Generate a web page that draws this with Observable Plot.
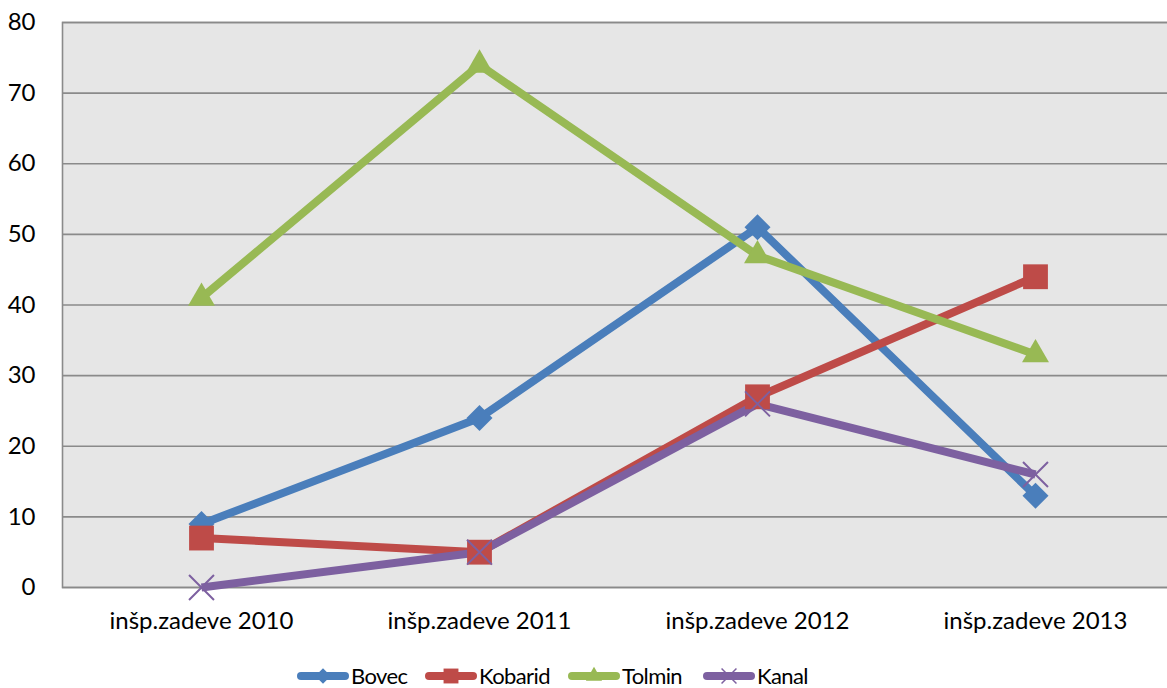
<!DOCTYPE html>
<html><head><meta charset="utf-8">
<script src="https://cdn.jsdelivr.net/npm/d3@7"></script>
<script src="https://cdn.jsdelivr.net/npm/@observablehq/plot@0.6"></script>
<style>
html,body{margin:0;padding:0;background:#fff;overflow:hidden;width:1167px;height:688px;font-family:Lato,sans-serif}
#chart{width:1174px;height:640px}
#chart svg{display:block;max-width:none !important;width:1174px;height:640px}
#legend{position:relative;height:48px;width:1167px}
.item{position:absolute;top:22px;display:flex;align-items:center;font-size:22px;letter-spacing:-0.6px;color:#000;white-space:nowrap}
.item svg{display:block;margin-right:1px}
</style></head><body>
<div id="chart"></div>
<div id="legend"></div>
<script>
const categories = ["inšp.zadeve 2010","inšp.zadeve 2011","inšp.zadeve 2012","inšp.zadeve 2013"];
const seriesNames = ["Bovec","Kobarid","Tolmin","Kanal"];
const bovec = [9,24,51,13];
const kobarid = [7,5,27,44];
const tolmin = [41,74,47,33];
const kanal = [0,5,26,16];
const yTicks = [0,10,20,30,40,50,60,70,80];
const colors = ["#4A7EBB","#BE4B48","#98B954","#7D60A0"];
const symbols = ["diamond2","square","triangle","times"];
const symbolR = [11.7,14,10,11.4];
const legendLeft = [296,424,567,702];

const values = [bovec,kobarid,tolmin,kanal];
const data = seriesNames.flatMap((s,i)=>categories.map((c,j)=>({series:s, cat:c, value: values[i][j]})));

const dotMarks = seriesNames.map((s,i)=>{
  const d = data.filter(r=>r.series===s);
  if (symbols[i]==="times") {
    return Plot.dot(d,{x:"cat",y:"value",symbol:"times",r:symbolR[i],stroke:colors[i],strokeWidth:2,fill:"none"});
  }
  return Plot.dot(d,{x:"cat",y:"value",symbol:symbols[i],r:symbolR[i],fill:colors[i],stroke:"none"});
});

const chart = Plot.plot({
  width:1174, height:640,
  marginLeft:62, marginRight:0, marginTop:22, marginBottom:53,
  style:{fontFamily:"Lato, sans-serif", color:"#000", background:"#fff", maxWidth:"none"},
  x:{type:"point", domain:categories, padding:0.5},
  y:{domain:[0,80]},
  color:{domain:seriesNames, range:colors},
  marks:[
    Plot.frame({fill:"#e6e6e6"}),
    Plot.ruleY(yTicks,{stroke:"#8a8a8a",strokeWidth:1.6}),
    Plot.frame({stroke:"#8a8a8a",strokeWidth:1.6}),
    Plot.line(data,{x:"cat",y:"value",z:"series",stroke:"series",strokeWidth:8,strokeLinejoin:"round",strokeLinecap:"butt"}),
    ...dotMarks,
    Plot.axisY(yTicks,{tickSize:0,tickPadding:27,fontSize:24,label:null}),
    Plot.axisX({tickSize:0,tickPadding:24,fontSize:24,label:null})
  ]
});
document.getElementById("chart").appendChild(chart);

const legend = d3.select("#legend");
const symMap = {diamond2:d3.symbolDiamond2, square:d3.symbolSquare, triangle:d3.symbolTriangle, times:d3.symbolTimes};
seriesNames.forEach((s,i)=>{
  const it = legend.append("div").attr("class","item").style("left", legendLeft[i]+"px");
  const sv = it.append("svg").attr("width",54).attr("height",26);
  sv.append("line").attr("x1",5).attr("x2",49).attr("y1",13).attr("y2",13)
    .attr("stroke",colors[i]).attr("stroke-width",8).attr("stroke-linecap","round");
  const size = Math.PI*(symbolR[i]*0.6)**2;
  const p = sv.append("path").attr("transform","translate(27,13)")
    .attr("d", d3.symbol(symMap[symbols[i]], size)());
  if (symbols[i]==="times") p.attr("fill","none").attr("stroke",colors[i]).attr("stroke-width",1.5);
  else p.attr("fill",colors[i]);
  it.append("span").text(s);
});
</script>
</body></html>
